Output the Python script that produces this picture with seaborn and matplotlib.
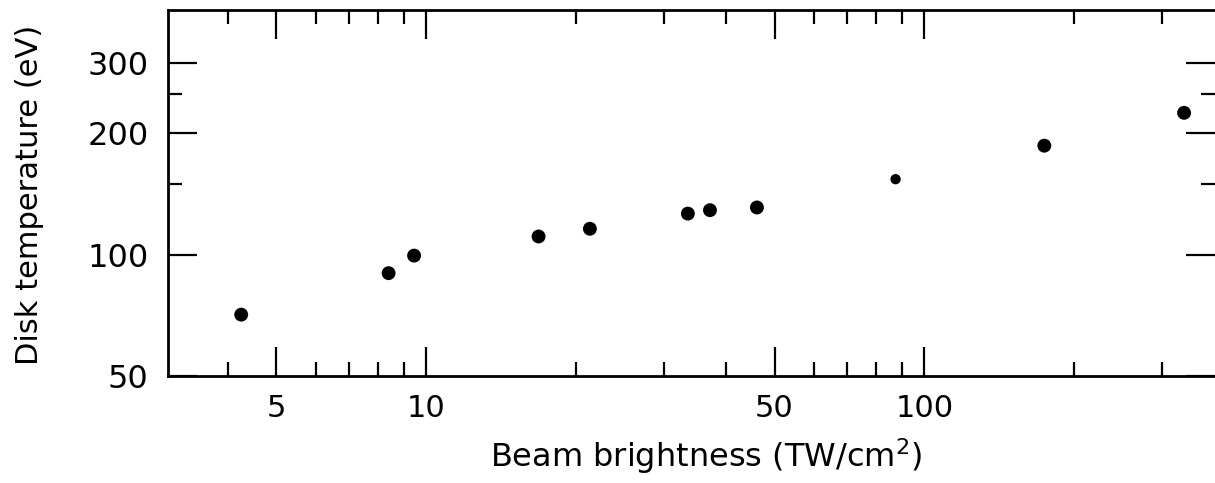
import numpy as np
import pandas as pd
import matplotlib
matplotlib.use("Agg")
import matplotlib.pyplot as plt
from matplotlib.ticker import FixedLocator, NullFormatter, FixedFormatter
import seaborn as sns

# ---- data ----
beam_brightness = [4.25, 8.4, 9.45, 16.8, 21.3, 33.5, 37.1, 46.1, 87.5, 174, 332]
disk_temperature = [71, 90, 99.5, 111, 116, 126.5, 129, 131, 154, 186.5, 225]
point_size = [100, 100, 100, 100, 100, 100, 100, 100, 55, 100, 100]

x_major = [5, 10, 50, 100]
x_major_labels = ["5", "10", "50", "100"]
x_minor = [4, 6, 7, 8, 9, 20, 30, 40, 60, 70, 80, 90, 200, 300]
y_major = [50, 100, 200, 300]
y_major_labels = ["50", "100", "200", "300"]
y_minor = [150, 250]

df = pd.DataFrame({"x": beam_brightness, "y": disk_temperature, "s": point_size})

sns.set_style("ticks")
plt.rcParams["font.family"] = ["DejaVu Sans"]
plt.rcParams["text.color"] = "black"
plt.rcParams["axes.labelcolor"] = "black"
plt.rcParams["xtick.color"] = "black"
plt.rcParams["ytick.color"] = "black"

fig = plt.figure(figsize=(12.15, 4.83), dpi=100)
ax = fig.add_axes([168 / 1215, (483 - 376) / 483, (1215 - 168) / 1215, (376 - 10) / 483])

sns.scatterplot(data=df, x="x", y="y", size="s", sizes=(55, 100), color="black",
                edgecolor="black", linewidth=0, legend=False, ax=ax)

ax.set_xscale("log")
ax.set_yscale("log")
ax.set_xlim(3.03, 383)
ax.set_ylim(50, 405)

ax.xaxis.set_major_locator(FixedLocator(x_major))
ax.xaxis.set_major_formatter(FixedFormatter(x_major_labels))
ax.xaxis.set_minor_locator(FixedLocator(x_minor))
ax.xaxis.set_minor_formatter(NullFormatter())
ax.yaxis.set_major_locator(FixedLocator(y_major))
ax.yaxis.set_major_formatter(FixedFormatter(y_major_labels))
ax.yaxis.set_minor_locator(FixedLocator(y_minor))
ax.yaxis.set_minor_formatter(NullFormatter())

for s in ["left", "bottom", "top"]:
    ax.spines[s].set_linewidth(2.0)
    ax.spines[s].set_color("black")
ax.spines["right"].set_visible(False)

ax.tick_params(which="both", direction="in", top=True, right=True,
               color="black", labelcolor="black", width=1.6)
ax.tick_params(which="major", length=21)
ax.tick_params(which="minor", length=10)
ax.tick_params(axis="x", which="major", labelsize=22, pad=13)
ax.tick_params(axis="y", which="major", labelsize=23, pad=14)

ax.set_xlabel(r"Beam brightness (TW/cm$^{2}$)", fontsize=23, color="black")
ax.set_ylabel("Disk temperature (eV)", fontsize=22, color="black")
ax.xaxis.set_label_coords((706 - 168) / 1047, (376 - 436) / 366)
ax.yaxis.set_label_coords((44 - 168) / 1047, (376 - 195) / 366)

ax.grid(False)
fig.savefig("out.png", dpi=100)
